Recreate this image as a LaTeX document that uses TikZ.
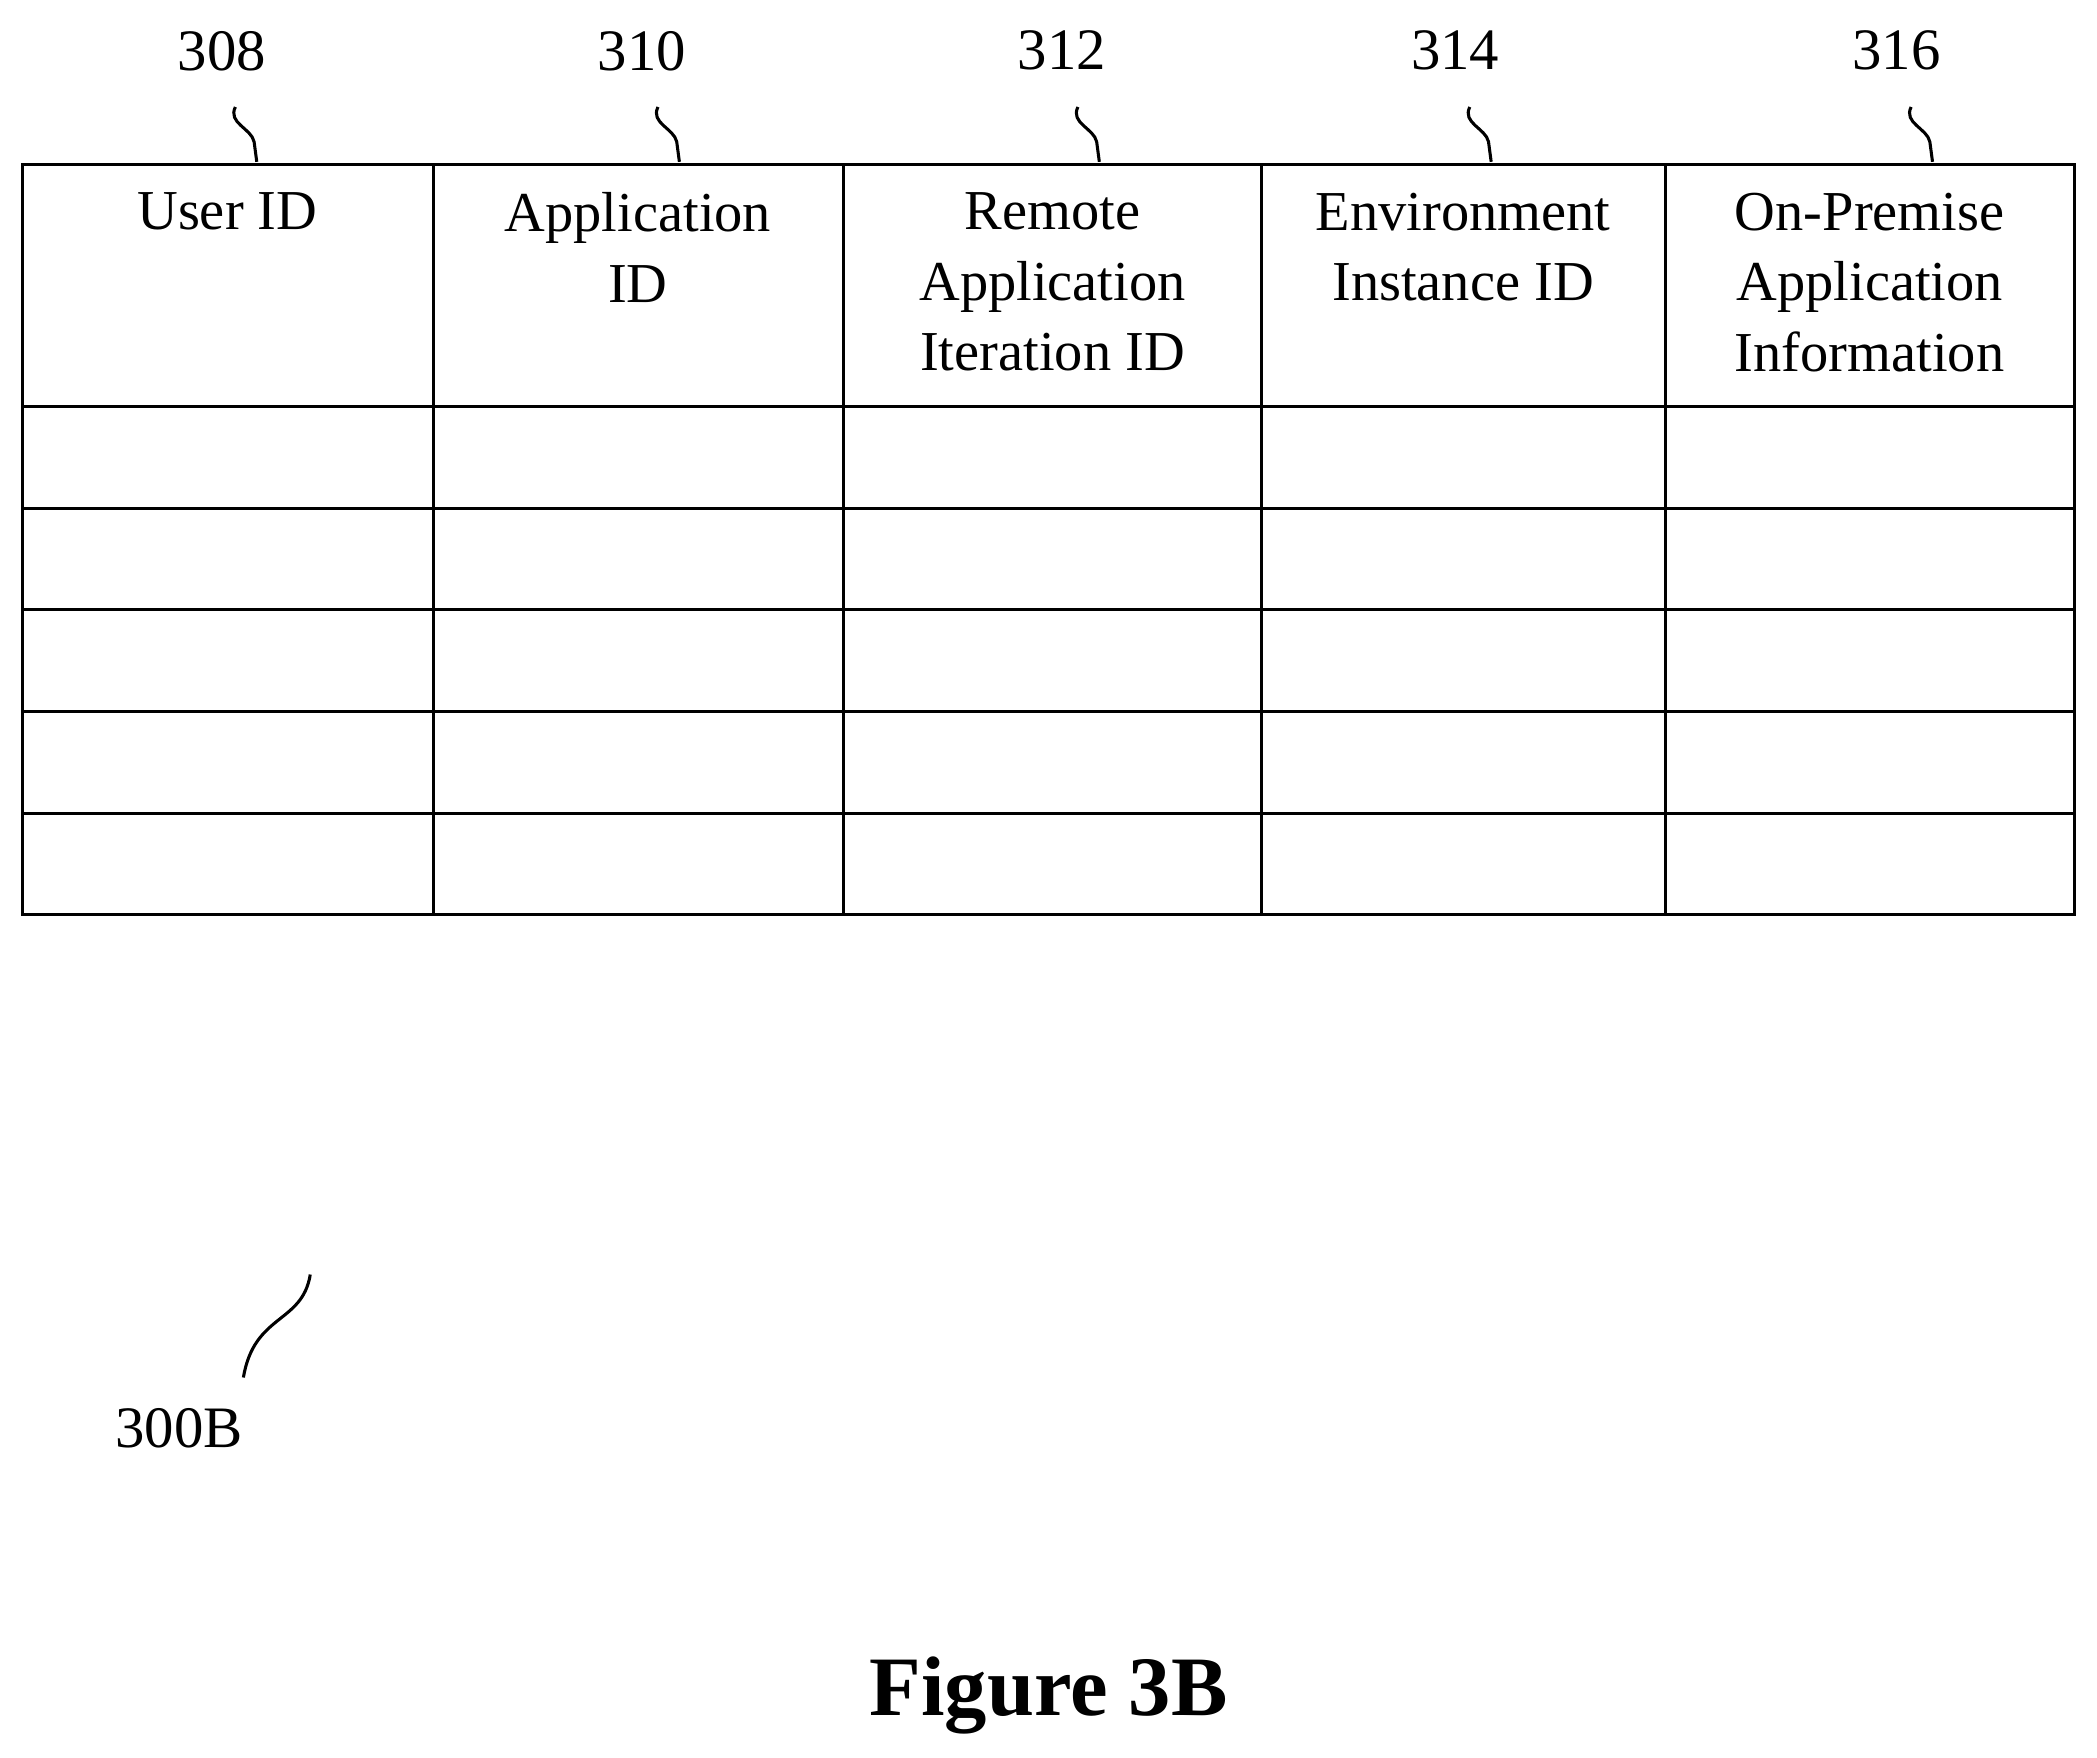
\documentclass[tikz,border=0pt]{standalone}
\usepackage{fontspec}
\setmainfont{Liberation Serif}
\begin{document}
\begin{tikzpicture}[x=0.02cm,y=-0.02cm,
  lbl/.style={font=\fontsize{25}{30}\selectfont},
  hdr/.style={font=\fontsize{24}{30}\selectfont,align=center,anchor=north},
  lead/.style={line width=1.3pt},
  grid/.style={line width=1.3pt}]
\useasboundingbox (0,0) rectangle (1568,1314);
% table
\draw[grid] (17,123) rectangle (1551,684);
\foreach \x in {324,631,943,1245} \draw[grid] (\x,123) -- (\x,684);
\foreach \y in {304,380,456,532,608} \draw[grid] (17,\y) -- (1551,\y);
% headers
\node[hdr] (h1) at (170,138) {User ID};
\node[hdr] (h2) at (477,138) {Application\\ID};
\node[hdr] (h3) at (787,138) {Remote\\Application\\Iteration ID};
\node[hdr] (h4) at (1094,138) {Environment\\Instance ID};
\node[hdr] (h5) at (1398,138) {On-Premise\\Application\\Information};
% labels and leaders
\foreach \n/\lx/\tx in {308/166/192,310/480/508,312/794/822,314/1088/1115,316/1418/1445}{
  \node[lbl] (l\n) at (\lx,38) {\n};
  \coordinate (t\n) at (\tx,121);
  \draw[lead] (\tx-16,80) .. controls (\tx-22,92) and (\tx-4,96) .. (\tx-2,106) -- (t\n);
}
\node[lbl] (l300) at (134,1068) {300B};
\coordinate (c300a) at (232,953);
\coordinate (c300b) at (182,1030);
\draw[lead] (c300a) .. controls (226,990) and (190,982) .. (c300b);
\node[font=\fontsize{36}{40}\selectfont\bfseries] (fig) at (784,1268) {Figure 3B};
\end{tikzpicture}
\end{document}
